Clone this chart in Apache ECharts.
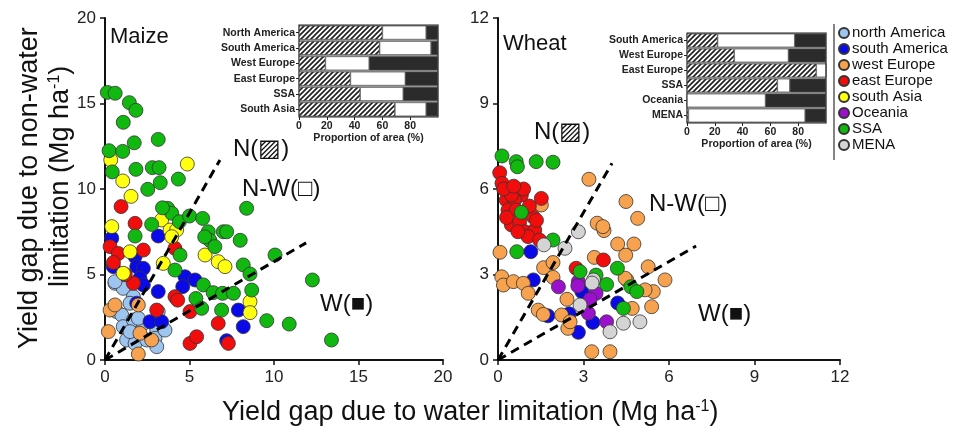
<!DOCTYPE html>
<html>
<head>
<meta charset="utf-8">
<script src="https://cdn.jsdelivr.net/npm/echarts@6/dist/echarts.min.js"></script>
<style>
  html, body { margin: 0; padding: 0; background: #fff; }
  #chart { width: 968px; height: 435px; }
</style>
</head>
<body>
<div id="chart"></div>
<script>
// maize panel points [water gap, non-water gap]
const maizeNorthAmerica = [[0.59,4.49],[1.08,4.19],[1.68,3.7],[1.48,3.32],[0.69,2.83],[0.99,2.63],[3.15,2.83],[1.08,1.95],[1.68,2.34],[2.27,2.14],[3.06,1.75],[1.28,1.17],[1.78,0.97],[2.96,1.27],[1.48,1.66],[1.97,2.44],[3.55,1.75],[3.06,0.78],[2.47,1.17],[0.59,4.58]];
const maizeSouthAmerica = [[0.4,7.12],[3.15,7.25],[0.49,5.46],[1.78,6.04],[1.88,5.46],[2.27,5.36],[2.07,4.78],[2.27,4.39],[4.73,4.87],[5.33,4.68],[4.6,4.29],[3.15,4.0],[1.88,3.32],[7.89,2.92],[8.18,1.95],[2.66,2.24],[3.35,2.24],[7.2,1.13]];
const maizeWestEurope = [[0.3,2.92],[0.59,3.22],[1.97,3.22],[0.2,1.66],[2.76,1.17],[2.07,1.56],[1.97,0.35]];
const maizeEastEurope = [[0.95,8.97],[1.78,7.99],[0.3,6.63],[0.79,6.23],[2.27,6.43],[4.14,6.53],[1.68,4.49],[4.14,3.7],[4.3,3.5],[3.06,2.92],[5.03,2.83],[6.7,2.14],[5.03,0.97],[5.42,1.36],[7.3,0.97],[1.2,5.0],[0.5,5.7]];
const maizeSouthAsia = [[0.34,11.7],[1.05,10.47],[1.54,9.57],[4.87,11.46],[3.35,8.19],[3.85,7.6],[4.24,7.6],[3.95,7.21],[0.4,7.8],[1.48,6.33],[5.92,6.14],[6.7,5.75],[7.1,5.46],[3.45,5.65],[1.08,5.07],[8.58,3.41],[8.58,2.77]];
const maizeSSA = [[0.14,15.65],[0.6,15.6],[1.44,15.05],[1.83,14.6],[1.08,13.9],[3.15,12.9],[1.73,12.7],[0.24,12.24],[1.05,12.2],[1.83,11.15],[2.8,11.25],[3.2,11.25],[0.43,11.0],[2.53,9.98],[3.27,10.37],[4.34,10.58],[3.7,8.87],[3.95,8.58],[2.76,7.93],[4.4,8.09],[5.0,8.42],[5.78,8.28],[8.38,8.87],[1.78,7.25],[6.11,7.5],[7.0,7.5],[6.2,7.0],[6.5,6.63],[8.0,7.0],[4.44,6.14],[10.06,6.14],[8.18,5.56],[4.14,5.26],[8.58,5.03],[5.82,4.39],[6.4,3.94],[6.96,3.9],[7.6,3.9],[5.38,3.6],[8.68,4.09],[5.72,3.02],[6.9,2.92],[9.57,2.3],[10.9,2.1],[12.27,4.68],[13.4,1.17],[7.2,7.5],[5.9,7.2],[3.4,8.9]];

// wheat panel points
const wheatSouthAmerica = [[1.15,3.8],[1.24,2.81],[2.94,2.4],[4.2,2.0],[1.75,1.55],[2.5,1.62],[3.33,1.32],[2.82,0.97]];
const wheatWestEurope = [[1.52,5.44],[0.07,3.78],[3.19,6.34],[4.49,5.56],[4.9,4.97],[3.48,4.8],[3.72,4.54],[3.68,4.68],[4.2,4.07],[4.77,4.07],[4.48,3.68],[3.38,3.6],[1.6,3.24],[1.93,3.42],[0.13,2.92],[0.19,2.63],[0.54,2.75],[0.89,2.69],[1.06,2.34],[1.93,2.9],[2.42,2.13],[1.41,1.75],[1.59,1.6],[2.23,1.58],[2.45,1.11],[2.53,1.34],[4.52,2.81],[5.27,3.27],[5.45,2.4],[5.86,2.81],[5.39,1.87],[4.71,1.81],[3.29,0.29],[3.93,0.29],[4.46,2.87],[5.16,2.46]];
const wheatEastEurope = [[0.06,6.57],[0.14,6.2],[0.35,5.9],[0.82,5.79],[1.52,5.67],[0.29,5.61],[0.58,5.61],[0.35,5.26],[0.64,5.26],[1.23,5.03],[0.47,4.74],[0.76,4.85],[0.94,4.5],[1.29,4.56],[1.05,4.33],[1.46,4.21],[0.47,5.79],[0.2,6.0],[0.9,6.0],[0.55,6.1],[1.1,5.4],[0.3,5.0],[0.7,4.5],[1.35,4.9],[3.7,3.51],[2.74,3.22]];
const wheatOceania = [[2.12,2.57],[2.82,2.75],[3.44,2.34],[3.23,2.13],[3.17,1.64],[3.81,1.34],[2.8,2.6]];
const wheatSSA = [[0.14,7.16],[0.64,6.96],[0.68,6.78],[1.34,6.96],[1.93,6.94],[0.82,5.18],[1.93,4.21],[0.66,3.8],[2.88,3.1],[3.44,2.98],[4.19,3.22],[3.81,2.65],[4.66,2.57],[4.87,2.4],[4.4,1.81]];
const wheatMENA = [[1.61,4.04],[2.35,3.92],[2.82,4.5],[3.35,2.81],[2.88,1.93],[4.4,1.29],[4.98,1.34],[3.93,0.99],[3.3,2.7]];

// dashed boundary lines (60 and 30 degrees from origin)
const maizeUpperLine = [[0, 0], [6.8, 11.7]];
const maizeLowerLine = [[0, 0], [11.9, 6.85]];
const wheatUpperLine = [[0, 0], [4.0, 6.9]];
const wheatLowerLine = [[0, 0], [6.95, 4.0]];

// inset bars: proportion of area (%)
const maizeRegions = ['North America', 'South America', 'West Europe', 'East Europe', 'SSA', 'South Asia'];
const maizeN = [60, 58, 19, 37, 44, 69];
const maizeNW = [31.5, 37, 31.5, 39.5, 31, 22.5];
const maizeW = [8.5, 5, 49.5, 23.5, 25, 8.5];

const wheatRegions = ['South America', 'West Europe', 'East Europe', 'SSA', 'Oceania', 'MENA'];
const wheatN = [22, 34, 93, 65, 0, 1];
const wheatNW = [55.5, 39, 7, 9, 56.5, 84];
const wheatW = [22.5, 27, 0, 26, 43.5, 15];

const groupNames = ['north America', 'south America', 'west Europe', 'east Europe', 'south Asia', 'Oceania', 'SSA', 'MENA'];
const groupColors = ['#9ec4f0', '#0a0ae8', '#f7a24e', '#f20d0d', '#ffff10', '#9a10cc', '#10b810', '#d4d4d4'];

const chart = echarts.init(document.getElementById('chart'));
const FONT = 'Liberation Sans, Arial, sans-serif';

// hatch pattern for the N bars
const hatch = document.createElement('canvas');
hatch.width = 5; hatch.height = 5;
const hc = hatch.getContext('2d');
hc.fillStyle = '#fff';
hc.fillRect(0, 0, 5, 5);
hc.strokeStyle = '#222';
hc.lineWidth = 1.7;
hc.beginPath();
hc.moveTo(-1, 6); hc.lineTo(6, -1);
hc.moveTo(-1, 1); hc.lineTo(1, -1);
hc.moveTo(4, 6); hc.lineTo(6, 4);
hc.stroke();

const scatter = (name, data, idx) => ({
  name: name,
  type: 'scatter',
  xAxisIndex: idx,
  yAxisIndex: idx,
  data: data,
  symbolSize: 14,
  itemStyle: {
    color: groupColors[groupNames.indexOf(name)],
    borderColor: '#333',
    borderWidth: 0.8,
    opacity: 1
  },
  z: 3
});

const dashed = (data, idx) => ({
  type: 'line',
  xAxisIndex: idx,
  yAxisIndex: idx,
  data: data,
  symbol: 'none',
  lineStyle: { color: '#000', width: 3, type: [9, 6] },
  z: 4,
  silent: true
});

const bar = (data, idx, color) => ({
  type: 'bar',
  stack: 'area' + idx,
  xAxisIndex: idx,
  yAxisIndex: idx,
  data: data,
  barCategoryGap: '10%',
  itemStyle: { color: color, borderColor: '#444', borderWidth: 0.6 },
  z: 6,
  silent: true
});

const mainAxisLine = { show: true, lineStyle: { color: '#111', width: 2 } };
const mainTick = { show: true, inside: false, length: 5, lineStyle: { color: '#111', width: 1.5 } };
const mainLabel = { fontSize: 17, color: '#222', fontFamily: FONT, margin: 9 };

const insetCatAxis = (regions, idx) => ({
  type: 'category',
  gridIndex: idx,
  data: regions,
  inverse: true,
  axisLine: { show: false },
  axisTick: { show: true, length: 3, alignWithLabel: true, lineStyle: { color: '#222' } },
  axisLabel: { fontSize: 10.5, fontWeight: 'bold', color: '#222', fontFamily: FONT, margin: 4 }
});

const insetValAxis = (idx) => ({
  type: 'value',
  gridIndex: idx,
  min: 0, max: 100, interval: 20,
  name: 'Proportion of area (%)',
  nameLocation: 'middle',
  nameGap: 16,
  nameTextStyle: { fontSize: 10.5, fontWeight: 'bold', color: '#222', fontFamily: FONT },
  splitLine: { show: false },
  axisLine: { show: false },
  axisTick: { show: true, length: 3, lineStyle: { color: '#222' } },
  axisLabel: { fontSize: 10.5, fontWeight: 'bold', color: '#222', fontFamily: FONT, margin: 4, showMaxLabel: false }
});

const bigText = (x, y, text, size) => ({
  type: 'text', left: x, top: y, z: 10,
  style: { text: text, fontSize: size, fill: '#111', fontFamily: FONT }
});

const titleRich = {
  a: { fontSize: 27, fontFamily: FONT, fill: '#111' },
  s: { fontSize: 16, fontFamily: FONT, fill: '#111', verticalAlign: 'top' }
};

const option = {
  backgroundColor: '#fff',
  animation: false,
  textStyle: { fontFamily: FONT },
  grid: [
    { left: 105, top: 18, width: 338, height: 342 },
    { left: 498, top: 18, width: 342, height: 342 },
    { left: 299, top: 25, width: 139, height: 92, show: true, borderColor: '#222', borderWidth: 1.2, backgroundColor: '#999', z: 5 },
    { left: 687, top: 33, width: 139, height: 90, show: true, borderColor: '#222', borderWidth: 1.2, backgroundColor: '#999', z: 5 }
  ],
  xAxis: [
    { type: 'value', gridIndex: 0, min: 0, max: 20, interval: 5, splitLine: { show: false }, axisLine: mainAxisLine, axisTick: mainTick, axisLabel: mainLabel },
    { type: 'value', gridIndex: 1, min: 0, max: 12, interval: 3, splitLine: { show: false }, axisLine: mainAxisLine, axisTick: mainTick, axisLabel: mainLabel },
    insetValAxis(2),
    insetValAxis(3)
  ],
  yAxis: [
    { type: 'value', gridIndex: 0, min: 0, max: 20, interval: 5, splitLine: { show: false }, axisLine: mainAxisLine, axisTick: mainTick, axisLabel: mainLabel },
    { type: 'value', gridIndex: 1, min: 0, max: 12, interval: 3, splitLine: { show: false }, axisLine: mainAxisLine, axisTick: mainTick, axisLabel: mainLabel },
    insetCatAxis(maizeRegions, 2),
    insetCatAxis(wheatRegions, 3)
  ],
  legend: {
    orient: 'vertical',
    left: 838,
    top: 25,
    padding: 0,
    itemGap: 0,
    itemWidth: 10,
    itemHeight: 10,
    icon: 'circle',
    data: groupNames,
    textStyle: { fontSize: 15, color: '#111', fontFamily: FONT, lineHeight: 16, padding: [0, 0, 0, -2] }
  },
  graphic: [
    bigText(110, 26, 'Maize', 22),
    bigText(503, 33, 'Wheat', 22),
    bigText(233, 137, 'N(▨)', 24),
    bigText(242, 177, 'N-W(□)', 24),
    bigText(320, 292, 'W(■)', 24),
    bigText(534, 120, 'N(▨)', 24),
    bigText(649, 192, 'N-W(□)', 24),
    bigText(698, 302, 'W(■)', 24),
    { type: 'line', z: 10, shape: { x1: 834, y1: 24, x2: 834, y2: 160 }, style: { stroke: '#333', lineWidth: 1.2 } },
    {
      type: 'text', left: 222, top: 399, z: 10,
      style: { text: '{a|Yield gap due to water limitation (Mg ha}{s|-1}{a|)}', rich: titleRich }
    },
    {
      type: 'text', x: 16, y: 349, rotation: Math.PI / 2, z: 10,
      style: { text: 'Yield gap due to non-water', fontSize: 27, fontFamily: FONT, fill: '#111' }
    },
    {
      type: 'text', x: 47, y: 287, rotation: Math.PI / 2, z: 10,
      style: { text: '{a|limitation (Mg ha}{s|-1}{a|)}', rich: titleRich }
    }
  ],
  series: [
    scatter('north America', maizeNorthAmerica, 0),
    scatter('south America', maizeSouthAmerica, 0),
    scatter('west Europe', maizeWestEurope, 0),
    scatter('east Europe', maizeEastEurope, 0),
    scatter('south Asia', maizeSouthAsia, 0),
    scatter('SSA', maizeSSA, 0),
    scatter('south America', wheatSouthAmerica, 1),
    scatter('west Europe', wheatWestEurope, 1),
    scatter('east Europe', wheatEastEurope, 1),
    scatter('Oceania', wheatOceania, 1),
    scatter('SSA', wheatSSA, 1),
    scatter('MENA', wheatMENA, 1),
    dashed(maizeUpperLine, 0),
    dashed(maizeLowerLine, 0),
    dashed(wheatUpperLine, 1),
    dashed(wheatLowerLine, 1),
    bar(maizeN, 2, { image: hatch, repeat: 'repeat' }),
    bar(maizeNW, 2, '#ffffff'),
    bar(maizeW, 2, '#2b2b2b'),
    bar(wheatN, 3, { image: hatch, repeat: 'repeat' }),
    bar(wheatNW, 3, '#ffffff'),
    bar(wheatW, 3, '#2b2b2b')
  ]
};

chart.setOption(option);
</script>
</body>
</html>
